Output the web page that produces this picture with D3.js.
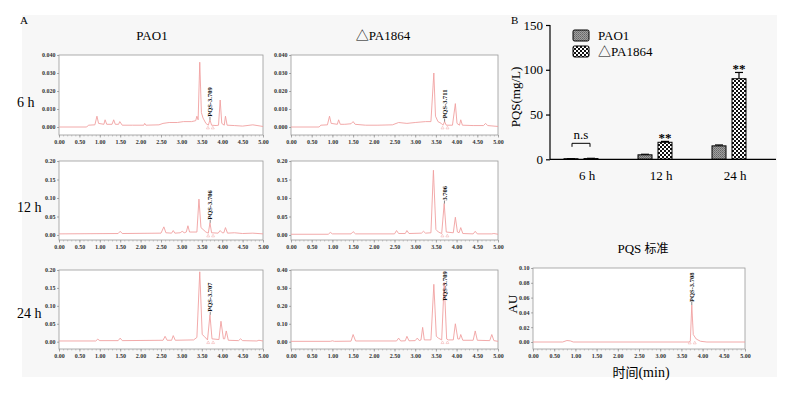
<!DOCTYPE html>
<html><head><meta charset="utf-8">
<script src="https://cdn.jsdelivr.net/npm/d3@7"></script>
<style>
html,body{margin:0;padding:0;background:#fff;}
svg{display:block;}
text{font-family:"Liberation Serif","Times New Roman","Noto Sans CJK SC",serif;}
</style></head>
<body>
<svg id="fig" width="787" height="395"></svg>
<script>
// ---------------- DATA ----------------
// chromatogram traces: [time (min), absorbance (AU)]
const trace6hPAO1 = [[0,0],[0.68,0],[0.72,0.001],[0.88,0.0012],[0.93,0.006],[0.97,0.002],[1.1,0.0015],[1.13,0.004],[1.17,0.0015],[1.3,0.0015],[1.34,0.004],[1.38,0.0015],[1.46,0.0015],[1.49,0.003],[1.55,0.001],[1.8,0.001],[2.08,0.001],[2.1,0.002],[2.13,0.001],[2.45,0.0012],[2.55,0.002],[2.7,0.0025],[2.9,0.0025],[3.05,0.003],[3.25,0.003],[3.35,0.0035],[3.38,0.006],[3.41,0.004],[3.45,0.036],[3.49,0.008],[3.53,0.005],[3.6,0.002],[3.66,0.001],[3.7,0.004],[3.74,0.001],[3.85,0.0008],[3.91,0.001],[3.95,0.015],[3.99,0.002],[4.05,0.001],[4.08,0.006],[4.12,0.001],[4.3,0.0008],[4.5,0.0005],[4.75,0.0012],[5,0.0003]];
const trace6hPA1864 = [[0,0],[0.68,0],[0.72,0.001],[0.88,0.0012],[0.93,0.006],[0.97,0.002],[1.12,0.0015],[1.15,0.004],[1.19,0.0015],[1.3,0.0015],[1.45,0.0018],[1.5,0.003],[1.55,0.0015],[1.8,0.001],[2.1,0.001],[2.45,0.0012],[2.6,0.0025],[2.8,0.002],[3.0,0.0025],[3.25,0.003],[3.38,0.003],[3.45,0.030],[3.49,0.006],[3.55,0.003],[3.63,0.002],[3.67,0.001],[3.71,0.003],[3.75,0.001],[3.9,0.001],[3.97,0.013],[4.01,0.002],[4.07,0.001],[4.1,0.004],[4.14,0.001],[4.4,0.0008],[4.65,0.0008],[4.7,0.002],[4.75,0.0008],[5,0.0003]];
const trace12hPAO1 = [[0,0.003],[1.45,0.004],[1.5,0.01],[1.55,0.004],[2.5,0.005],[2.57,0.022],[2.62,0.006],[2.76,0.005],[2.8,0.012],[2.84,0.005],[2.97,0.006],[3.02,0.01],[3.07,0.006],[3.12,0.008],[3.16,0.025],[3.2,0.008],[3.38,0.008],[3.43,0.097],[3.48,0.02],[3.53,0.015],[3.6,0.008],[3.66,0.005],[3.7,0.033],[3.74,0.006],[3.9,0.005],[3.95,0.012],[4.0,0.006],[4.04,0.006],[4.08,0.02],[4.13,0.005],[4.3,0.006],[4.5,0.004],[4.75,0.005],[5,0.003]];
const trace12hPA1864 = [[0,0.002],[0.9,0.002],[0.95,0.007],[1.0,0.003],[1.45,0.003],[1.5,0.009],[1.56,0.003],[2.5,0.003],[2.55,0.012],[2.6,0.004],[2.76,0.004],[2.8,0.012],[2.85,0.004],[3.15,0.005],[3.2,0.01],[3.25,0.005],[3.38,0.006],[3.44,0.175],[3.5,0.015],[3.56,0.008],[3.64,0.004],[3.7,0.085],[3.75,0.008],[3.92,0.006],[3.97,0.048],[4.02,0.008],[4.06,0.006],[4.1,0.02],[4.15,0.004],[4.4,0.003],[4.45,0.01],[4.5,0.003],[4.85,0.003],[4.9,0.004],[5,0.002]];
const trace24hPAO1 = [[0,0.002],[0.9,0.002],[0.95,0.007],[1.0,0.003],[1.45,0.003],[1.5,0.01],[1.55,0.003],[2.55,0.004],[2.6,0.015],[2.65,0.004],[2.76,0.004],[2.8,0.017],[2.85,0.004],[3.3,0.005],[3.38,0.012],[3.45,0.195],[3.51,0.02],[3.56,0.015],[3.64,0.005],[3.7,0.075],[3.75,0.008],[3.92,0.006],[3.97,0.057],[4.03,0.008],[4.06,0.008],[4.1,0.03],[4.15,0.004],[4.4,0.003],[4.45,0.008],[4.5,0.003],[4.85,0.002],[4.9,0.004],[5,0.002]];
const trace24hPA1864 = [[0,0.002],[0.95,0.002],[1.0,0.005],[1.05,0.002],[1.45,0.003],[1.5,0.04],[1.56,0.004],[2.55,0.004],[2.6,0.02],[2.65,0.004],[2.76,0.005],[2.8,0.03],[2.85,0.005],[3.0,0.006],[3.05,0.02],[3.1,0.006],[3.14,0.01],[3.18,0.08],[3.22,0.01],[3.38,0.01],[3.45,0.32],[3.51,0.03],[3.56,0.02],[3.64,0.01],[3.7,0.33],[3.76,0.015],[3.8,0.01],[3.92,0.01],[3.97,0.1],[4.03,0.015],[4.07,0.015],[4.1,0.04],[4.15,0.008],[4.4,0.008],[4.45,0.06],[4.5,0.008],[4.8,0.006],[4.85,0.04],[4.9,0.006],[5,0.002]];
const traceStandard = [[0,0],[0.7,0],[0.8,0.002],[0.88,0.0015],[0.95,0],[3.68,0],[3.71,0.001],[3.745,0.05],[3.78,0.01],[3.85,0.004],[3.95,0.001],[4.1,0],[5,0]];

const peakLabels = ["PQS-3.709","PQS-3.711","PQS-3.706","3.706","PQS-3.707","PQS-3.709","PQS-3.708"];
const peakTimes  = [3.70, 3.71, 3.706, 3.706, 3.707, 3.709, 3.745];
const peakValues = [0.004, 0.003, 0.033, 0.085, 0.075, 0.33, 0.05];

const timeTicks = [0,0.5,1,1.5,2,2.5,3,3.5,4,4.5,5];
const colTitles = ["PAO1","\u25B3PA1864"];
const rowTitles = ["6 h","12 h","24 h"];

// bar chart (B)
const categories = ["6 h","12 h","24 h"];
const seriesNames = ["PAO1","\u25B3PA1864"];
const pao1Values = [0.6, 5, 15];
const pa1864Values = [0.8, 19, 90];
const pao1Errors = [0.2, 0.6, 1];
const pa1864Errors = [0.3, 1, 7];
const significance = ["n.s","**","**"];
const barTicks = [0,50,100,150];

// ---------------- DRAW ----------------
const svg = d3.select("#fig");
svg.append("rect").attr("x",0).attr("y",0).attr("width",787).attr("height",395).attr("fill","#fff");
svg.append("rect").attr("x",22).attr("y",15).attr("width",755).attr("height",362).attr("fill","#f7f7f7");

const defs = svg.append("defs");

const panels = [
  {x0:59,x1:263,yTop:55,y0:127,yBot:135,yMax:0.04,step:0.01,fmt:".3f",trace:trace6hPAO1},
  {x0:291,x1:498,yTop:55,y0:127,yBot:135,yMax:0.04,step:0.01,fmt:".3f",trace:trace6hPA1864},
  {x0:59,x1:263,yTop:161,y0:235,yBot:240,yMax:0.2,step:0.05,fmt:".2f",trace:trace12hPAO1},
  {x0:291,x1:498,yTop:161,y0:235,yBot:240,yMax:0.2,step:0.05,fmt:".2f",trace:trace12hPA1864},
  {x0:59,x1:263,yTop:270,y0:341.7,yBot:349,yMax:0.2,step:0.05,fmt:".2f",trace:trace24hPAO1},
  {x0:291,x1:498,yTop:270,y0:341.7,yBot:349,yMax:0.4,step:0.1,fmt:".2f",trace:trace24hPA1864},
  {x0:533,x1:745,yTop:268,y0:342,yBot:349,yMax:0.1,step:0.02,fmt:".2f",trace:traceStandard}
];

const tickFont = "6px";
panels.forEach((p,i)=>{
  const x = d3.scaleLinear().domain([0,5]).range([p.x0,p.x1]);
  const y = d3.scaleLinear().domain([0,p.yMax]).range([p.y0,p.yTop]);
  const g = svg.append("g");
  g.append("rect").attr("x",p.x0).attr("y",p.yTop).attr("width",p.x1-p.x0).attr("height",p.yBot-p.yTop)
    .attr("fill","#fff").attr("stroke","#9a9a9a").attr("stroke-width",0.8);
  defs.append("clipPath").attr("id","clip"+i).append("rect")
    .attr("x",p.x0).attr("y",p.yTop).attr("width",p.x1-p.x0).attr("height",p.yBot-p.yTop);

  // y axis
  const yTicks = d3.range(0,p.yMax+p.step/2,p.step);
  const ya = g.append("g").attr("transform",`translate(${p.x0},0)`)
    .call(d3.axisLeft(y).tickValues(yTicks).tickFormat(d3.format(p.fmt)).tickSize(2).tickPadding(1.5));
  ya.select(".domain").remove();
  ya.selectAll("line").attr("stroke","#777").attr("stroke-width",0.6);
  ya.selectAll("text").attr("font-size",tickFont).attr("font-weight","bold").attr("fill","#333")
    .style("font-family","Liberation Serif, serif");

  // x axis
  const xa = g.append("g").attr("transform",`translate(0,${p.yBot})`)
    .call(d3.axisBottom(x).tickValues(timeTicks).tickFormat(d3.format(".2f")).tickSize(2.5).tickPadding(2));
  xa.select(".domain").remove();
  xa.selectAll("line").attr("stroke","#777").attr("stroke-width",0.6);
  xa.selectAll("text").attr("font-size",tickFont).attr("font-weight","bold").attr("fill","#333")
    .style("font-family","Liberation Serif, serif");
  const minor = g.append("g").attr("transform",`translate(0,${p.yBot})`)
    .call(d3.axisBottom(x).tickValues(d3.range(0,50.5,1).map(v=>v/10)).tickFormat("").tickSize(1.5));
  minor.select(".domain").remove();
  minor.selectAll("line").attr("stroke","#999").attr("stroke-width",0.5);

  // trace
  const line = d3.line().x(d=>x(d[0])).y(d=>y(d[1]));
  g.append("path").datum(p.trace).attr("d",line).attr("fill","none")
    .attr("stroke","#f0a0a0").attr("stroke-width",0.9).attr("clip-path",`url(#clip${i})`);

  // integration markers
  const pt = peakTimes[i];
  const bl = y(0) + 1;
  [pt-0.05, pt+0.07].forEach(t=>{
    g.append("path").attr("d",d3.symbol(d3.symbolTriangle,4)())
      .attr("transform",`translate(${x(t)},${bl})`)
      .attr("fill","none").attr("stroke","#f0a8a8").attr("stroke-width",0.5);
  });

  // peak label
  const py = y(peakValues[i]);
  const labelLen = peakLabels[i].length*3.3;
  let startY = Math.max(py - 3, p.yTop + labelLen + 1);
  g.append("line").attr("x1",x(pt)).attr("x2",x(pt)).attr("y1",py).attr("y2",Math.min(startY,py))
    .attr("stroke","#333").attr("stroke-width",0.6);
  g.append("text").attr("transform",`translate(${x(pt)+2.2},${startY}) rotate(-90)`)
    .attr("font-size","6.5px").attr("font-weight","bold").attr("fill","#111")
    .text(peakLabels[i]);
});

// Section A labels
svg.append("text").attr("x",20).attr("y",24).attr("font-size","11px").text("A");
svg.append("text").attr("x",152).attr("y",40).attr("font-size","13px").attr("text-anchor","middle").text(colTitles[0]);
svg.append("text").attr("x",383).attr("y",40).attr("font-size","13px").attr("text-anchor","middle").text(colTitles[1]);
[107,212,318].forEach((yy,k)=>{
  svg.append("text").attr("x",17).attr("y",yy).attr("font-size","14px").text(rowTitles[k]);
});
// standard panel labels
const t1 = svg.append("text").attr("x",643).attr("y",253).attr("font-size","13px").attr("text-anchor","middle");
t1.append("tspan").style("font-family","Liberation Serif, serif").text("PQS ");
t1.append("tspan").style("font-family","Noto Sans CJK SC, sans-serif").attr("font-size","12px").text("标准");
const t2 = svg.append("text").attr("x",641).attr("y",377).attr("font-size","14px").attr("text-anchor","middle");
t2.append("tspan").style("font-family","Noto Sans CJK SC, sans-serif").attr("font-size","13px").text("时间");
t2.append("tspan").style("font-family","Liberation Serif, serif").text("(min)");
svg.append("text").attr("transform","translate(517,304) rotate(-90)").attr("font-size","13px").attr("text-anchor","middle").text("AU");

// ---------------- B: bar chart ----------------
svg.append("text").attr("x",511).attr("y",24).attr("font-size","11px").text("B");

// patterns
const pat1 = defs.append("pattern").attr("id","patPAO1").attr("patternUnits","userSpaceOnUse").attr("width",2).attr("height",2);
pat1.append("rect").attr("width",2).attr("height",2).attr("fill","#a0a0a0");
pat1.append("rect").attr("width",1).attr("height",1).attr("fill","#666");
pat1.append("rect").attr("x",1).attr("y",1).attr("width",1).attr("height",1).attr("fill","#777");
const pat2 = defs.append("pattern").attr("id","patPA").attr("patternUnits","userSpaceOnUse").attr("width",4).attr("height",4);
pat2.append("rect").attr("width",4).attr("height",4).attr("fill","#111");
pat2.append("rect").attr("x",0).attr("y",0).attr("width",2).attr("height",2).attr("fill","#fff");
pat2.append("rect").attr("x",2).attr("y",2).attr("width",2).attr("height",2).attr("fill","#fff");
const fills = ["url(#patPAO1)","url(#patPA)"];

const bx = d3.scaleBand().domain(categories).range([544,766]).paddingInner(0).paddingOuter(0);
const bx1 = d3.scaleBand().domain(seriesNames).range([-17,17]).paddingInner(0.3);
const by = d3.scaleLinear().domain([0,150]).range([159.3,25]);

const vals = [pao1Values, pa1864Values];
const errs = [pao1Errors, pa1864Errors];
const bg = svg.append("g");
categories.forEach((c,ci)=>{
  const cx = bx(c)+bx.bandwidth()/2;
  seriesNames.forEach((s,si)=>{
    const v = vals[si][ci], e = errs[si][ci];
    const xL = cx + bx1(s);
    const w = bx1.bandwidth();
    bg.append("line").attr("x1",xL+w/2).attr("x2",xL+w/2).attr("y1",by(v)).attr("y2",by(v+e))
      .attr("stroke","#000").attr("stroke-width",1.2);
    bg.append("line").attr("x1",xL+w/2-4).attr("x2",xL+w/2+4).attr("y1",by(v+e)).attr("y2",by(v+e))
      .attr("stroke","#000").attr("stroke-width",1.2);
    bg.append("rect").attr("x",xL).attr("y",by(v)).attr("width",w).attr("height",by(0)-by(v))
      .attr("fill",fills[si]).attr("stroke","#000").attr("stroke-width",1);
  });
});
// significance
{
  const c0 = bx(categories[0])+bx.bandwidth()/2;
  const yb = by(pa1864Values[0]+pa1864Errors[0]) - 15;
  bg.append("path").attr("d",`M${c0-9},${yb+3.5}V${yb}H${c0+9}V${yb+3.5}`).attr("fill","none").attr("stroke","#000").attr("stroke-width",1);
  bg.append("text").attr("x",c0).attr("y",yb-4).attr("text-anchor","middle").attr("font-size","13px").text(significance[0]);
  [1,2].forEach(ci=>{
    const cx = bx(categories[ci])+bx.bandwidth()/2 + bx1(seriesNames[1]) + bx1.bandwidth()/2;
    bg.append("text").attr("x",cx).attr("y",by(pa1864Values[ci]+pa1864Errors[ci])+0.5)
      .attr("text-anchor","middle").attr("font-size","13px").attr("font-weight","bold").text(significance[ci]);
  });
}
// axes
const yA = svg.append("g").attr("transform","translate(550,0)")
  .call(d3.axisLeft(by).tickValues(barTicks).tickSize(4).tickPadding(3));
yA.select(".domain").attr("stroke","#000").attr("stroke-width",1.2).attr("d","M0,25V159.3");
yA.selectAll("line").attr("stroke","#000").attr("stroke-width",1.2);
yA.selectAll("text").attr("font-size","13px").attr("fill","#000").style("font-family","Liberation Serif, serif");
svg.append("line").attr("x1",550).attr("x2",776).attr("y1",by(0)).attr("y2",by(0)).attr("stroke","#000").attr("stroke-width",1.2);
const xA = svg.append("g").attr("transform",`translate(6,${by(0)})`)
  .call(d3.axisBottom(bx).tickSize(0).tickPadding(11));
xA.select(".domain").remove();
xA.selectAll("text").attr("font-size","13px").attr("fill","#000").style("font-family","Liberation Serif, serif");
svg.append("text").attr("transform","translate(520,97) rotate(-90)").attr("font-size","13px").attr("text-anchor","middle").text("PQS(mg/L)");

// legend
seriesNames.forEach((s,si)=>{
  const ly = 30 + si*16;
  svg.append("rect").attr("x",573).attr("y",ly).attr("width",16).attr("height",11).attr("rx",1.5)
    .attr("fill",fills[si]).attr("stroke","#000").attr("stroke-width",1);
  svg.append("text").attr("x",598).attr("y",ly+10).attr("font-size","13px").text(s);
});
</script>
</body></html>
